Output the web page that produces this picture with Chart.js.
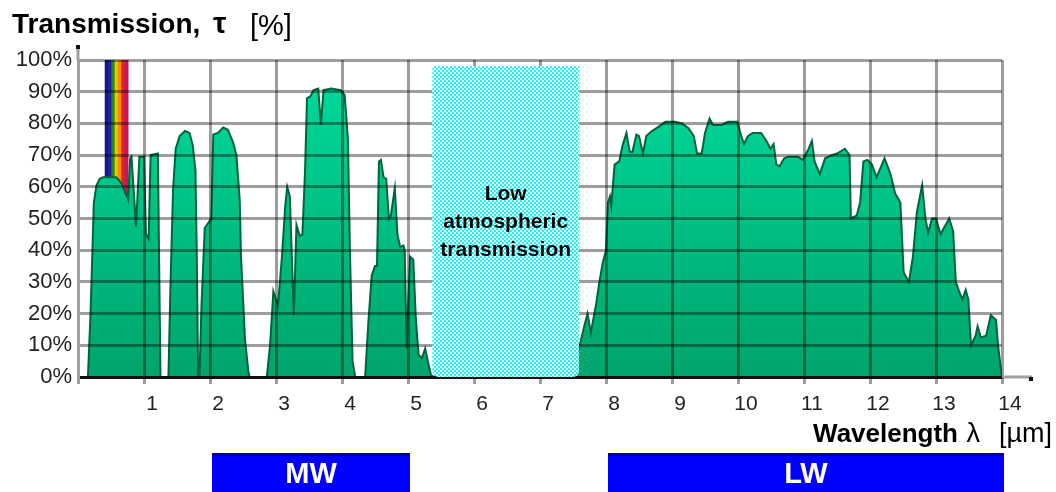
<!DOCTYPE html>
<html>
<head>
<meta charset="utf-8">
<script src="https://cdn.jsdelivr.net/npm/chart.js@4.4.1/dist/chart.umd.min.js"></script>
<style>
    html, body { margin: 0; padding: 0; background: #fff; }
    #wrap { width: 1056px; height: 492px; position: relative; }
</style>
</head>
<body>
<div id="wrap"><canvas id="chart"></canvas></div>
<script>
// --- values ---
const wavelength = [
    0.15, 0.19, 0.24, 0.28, 0.33, 0.38, 0.58, 0.66, 0.71, 0.76, 0.79, 0.81, 0.88, 0.93, 1.00, 1.03, 1.07, 1.10, 1.21, 1.25,
    1.37, 1.40, 1.44, 1.48, 1.54, 1.62, 1.69, 1.74, 1.78, 1.80, 1.82,
    1.84, 1.87, 1.92, 1.97, 2.02, 2.05, 2.12, 2.20, 2.27, 2.35, 2.40, 2.45, 2.47, 2.53, 2.58, 2.60,
    2.86, 2.91, 2.96, 3.03, 3.09, 3.14, 3.17, 3.21, 3.24, 3.27, 3.31, 3.36, 3.40, 3.44, 3.47, 3.52, 3.57, 3.64, 3.68, 3.72, 3.84, 3.98, 4.04, 4.09, 4.12, 4.16, 4.20,
    4.35, 4.40, 4.45, 4.50, 4.53, 4.56, 4.59, 4.63, 4.67, 4.71, 4.74, 4.80, 4.84, 4.88, 4.93, 4.95, 4.98, 5.03, 5.08, 5.12, 5.16, 5.21, 5.26, 5.30, 5.35, 5.40,
    7.45, 7.52, 7.59, 7.67, 7.72, 7.77, 7.85, 7.90, 7.95, 8.00, 8.03, 8.06, 8.08, 8.13, 8.20, 8.25, 8.31, 8.36, 8.40, 8.46, 8.50, 8.56, 8.61, 8.69,
    8.80, 8.90, 9.05, 9.15, 9.25, 9.33, 9.38, 9.45, 9.50, 9.57, 9.62, 9.75, 9.85, 9.99, 10.05, 10.09, 10.15, 10.22, 10.35, 10.43, 10.49, 10.54,
    10.58, 10.63, 10.70, 10.76, 10.91, 10.98, 11.06, 11.12, 11.16, 11.24, 11.32, 11.42, 11.50, 11.62, 11.69, 11.71, 11.80, 11.85, 11.90, 11.96,
    12.03, 12.10, 12.22, 12.31, 12.38, 12.46, 12.51, 12.59, 12.65, 12.71, 12.79, 12.84, 12.88, 12.94, 13.00, 13.07, 13.12, 13.20, 13.26, 13.30,
    13.35, 13.40, 13.45, 13.49, 13.53, 13.60, 13.63, 13.68, 13.76, 13.83, 13.91, 13.94, 13.98, 14.00
];
const transmission = [
    0, 20, 55, 60.5, 62.5, 63, 63, 61, 58.5, 56, 69, 69.5, 47.5, 69.5, 69.5, 45, 43.5, 70, 70.5, 0,
    0, 28, 59, 72, 76, 77.6, 77, 73, 65, 38, 0,
    0, 22, 47, 48.5, 50, 76.5, 77, 78.7, 78, 74, 70, 56, 38, 12, 2, 0,
    0, 10, 27, 22.5, 38, 54, 60, 57, 38, 19.5, 48, 44.5, 45, 65, 88, 88.5, 90.5, 91, 79.5, 90.5, 91, 90.5, 89, 75, 40, 5, 0,
    0, 17.5, 32, 35, 35, 68, 68.5, 63, 62.5, 50, 51, 59.5, 45, 41, 41.5, 40, 9, 38, 37, 18, 7, 6, 9, 5, 0.5, 0,
    0, 4, 9, 16, 20, 14, 23, 30, 36, 40, 55, 57, 54, 67, 68, 73, 77, 71, 71, 76.5, 76, 70.5, 76, 77.5,
    79, 80.5, 80.5, 80, 78.5, 76, 70.5, 70.5, 77, 81.5, 79.5, 79.5, 80.5, 80.5, 76, 73.5, 76, 77, 77, 74.5, 72, 73.5,
    67, 66.5, 69, 69.5, 69.5, 68.5, 71.5, 74.5, 68, 64, 69, 70, 70.5, 72, 70, 50, 51, 55, 68, 68.5,
    67, 63, 69, 64, 58, 55, 33, 30, 38, 52, 60.5, 50, 45.5, 50, 50, 45, 47, 50, 46, 30,
    27, 24.5, 27.5, 24.5, 10, 13, 16, 12.5, 13, 19.5, 18, 10, 3, 0
];

// visible light strip (µm) and its colours
const visibleBands = [0.435, 0.485, 0.535, 0.585, 0.635, 0.685, 0.735];
const visibleColors = ['#201488', '#1c24a8', '#1e8c1e', '#e8c800', '#f58c0a', '#e6231e', '#c81464'];

// low atmospheric transmission window
const lowStart = 5.37;
const lowEnd = 7.59;
const lowTop = 98;
const lowLabel = ['Low', 'atmospheric', 'transmission'];

// infrared bands under the axis
const bandNames = ['MW', 'LW'];
const bandStart = [2, 8];
const bandEnd = [5, 14];

const xTickLabels = ['', '1', '2', '3', '4', '5', '6', '7', '8', '9', '10', '11', '12', '13', '14'];
const yTickLabels = ['0%', '10%', '20%', '30%', '40%', '50%', '60%', '70%', '80%', '90%', '100%'];

const FONT = '"Liberation Sans", Arial, sans-serif';

function hatchPattern(ctx) {
    const c = document.createElement('canvas');
    c.width = 4; c.height = 4;
    const p = c.getContext('2d');
    p.fillStyle = '#ffffff';
    p.fillRect(0, 0, 4, 4);
    p.fillStyle = '#00ffff';
    p.fillRect(0, 0, 2, 2);
    p.fillRect(2, 2, 2, 2);
    return ctx.createPattern(c, 'repeat');
}

const decorPlugin = {
    id: 'decor',
    afterDraw(chart) {
        const ctx = chart.ctx;
        const xs = chart.scales.x, ys = chart.scales.y, area = chart.chartArea;
        ctx.save();

        // axis extensions
        ctx.strokeStyle = '#a0a0a0';
        ctx.lineWidth = 3;
        ctx.beginPath();
        ctx.moveTo(area.left, area.top);
        ctx.lineTo(area.left, area.top - 14);
        ctx.moveTo(area.right, area.bottom);
        ctx.lineTo(area.right + 30, area.bottom);
        ctx.stroke();
        ctx.fillStyle = '#111';
        ctx.fillRect(area.left - 2, area.top - 15, 4, 4);
        ctx.fillRect(area.right + 27, area.bottom, 4, 4);

        // low transmission window
        const l = xs.getPixelForValue(lowStart), r = xs.getPixelForValue(lowEnd);
        const t = ys.getPixelForValue(lowTop), b = ys.getPixelForValue(0);
        ctx.fillStyle = hatchPattern(ctx);
        ctx.beginPath();
        if (ctx.roundRect) ctx.roundRect(l, t, r - l, b - t, [0, 0, 6, 6]);
        else ctx.rect(l, t, r - l, b - t);
        ctx.fill();

        ctx.fillStyle = '#000';
        ctx.font = 'bold 21px ' + FONT;
        ctx.textAlign = 'center';
        ctx.textBaseline = 'middle';
        lowLabel.forEach((s, i) => ctx.fillText(s, (l + r) / 2, 194 + i * 28));

        // y title
        ctx.textAlign = 'left';
        ctx.textBaseline = 'alphabetic';
        ctx.font = 'bold 28px ' + FONT;
        ctx.fillText('Transmission,', 12, 33);
        ctx.font = 'bold 30px ' + FONT;
        ctx.fillText('τ', 213, 33);
        ctx.font = '29px ' + FONT;
        ctx.fillText('[%]', 250, 35);

        // x title
        ctx.textAlign = 'right';
        ctx.font = '27px ' + FONT;
        ctx.fillText('[µm]', 1052, 442);
        ctx.font = '27px ' + FONT;
        ctx.fillText('λ', 980, 442);
        ctx.font = 'bold 26px ' + FONT;
        ctx.fillText('Wavelength', 958, 442);

        // MW / LW bands
        bandNames.forEach((name, i) => {
            const x0 = xs.getPixelForValue(bandStart[i]) + 2;
            const x1 = xs.getPixelForValue(bandEnd[i]) + 2;
            ctx.fillStyle = '#0000ff';
            ctx.fillRect(x0, 453, x1 - x0, 39);
            ctx.fillStyle = '#0000a0';
            ctx.fillRect(x0, 453, x1 - x0, 3);
            ctx.fillStyle = '#ffffff';
            ctx.font = 'bold 29px ' + FONT;
            ctx.textAlign = 'center';
            ctx.textBaseline = 'middle';
            ctx.fillText(name, (x0 + x1) / 2, 475);
        });
        ctx.restore();
    }
};

const gridColor = 'rgba(0,0,0,0.38)';

new Chart(document.getElementById('chart'), {
    type: 'line',
    data: {
        datasets: [
            {
                label: 'Transmission',
                data: wavelength.map((w, i) => ({ x: w, y: transmission[i] })),
                borderColor: '#00643c',
                borderWidth: 2,
                pointRadius: 0,
                tension: 0,
                fill: 'origin',
                backgroundColor: function (c) {
                    const a = c.chart.chartArea;
                    if (!a) return '#00c88a';
                    const g = c.chart.ctx.createLinearGradient(0, a.top, 0, a.bottom);
                    g.addColorStop(0, '#00dc9e');
                    g.addColorStop(1, '#00a46c');
                    return g;
                },
                order: 1
            },
            {
                type: 'bar',
                label: 'Visible',
                data: visibleBands.map(w => ({ x: w, y: [40, 100] })),
                backgroundColor: visibleColors,
                borderWidth: 0,
                barPercentage: 1,
                categoryPercentage: 1,
                order: 2
            }
        ]
    },
    options: {
        responsive: true,
        maintainAspectRatio: false,
        animation: false,
        events: [],
        layout: { padding: { top: 60, right: 54, bottom: 0, left: 0 } },
        plugins: {
            legend: { display: false },
            tooltip: { enabled: false },
            title: { display: false }
        },
        scales: {
            x: {
                type: 'linear',
                min: 0,
                max: 14,
                offset: false,
                afterFit: s => { s.height = 115; },
                grid: { color: gridColor, lineWidth: 3, tickLength: 7, offset: false, z: 1 },
                border: { color: '#1a1a1a', width: 3, z: 1 },
                ticks: {
                    stepSize: 1,
                    padding: 8,
                    labelOffset: 8,
                    maxRotation: 0,
                    color: '#222',
                    font: { family: FONT, size: 21 },
                    callback: v => xTickLabels[v] || ''
                }
            },
            y: {
                min: 0,
                max: 100,
                afterFit: s => { s.width = 78; },
                grid: { color: gridColor, lineWidth: 3, drawTicks: false, z: 1 },
                border: { color: '#a0a0a0', width: 3, z: 1 },
                ticks: {
                    stepSize: 10,
                    padding: 6,
                    color: '#222',
                    font: { family: FONT, size: 22 },
                    callback: v => yTickLabels[Math.round(v / 10)]
                }
            }
        }
    },
    plugins: [decorPlugin]
});
</script>
</body>
</html>
